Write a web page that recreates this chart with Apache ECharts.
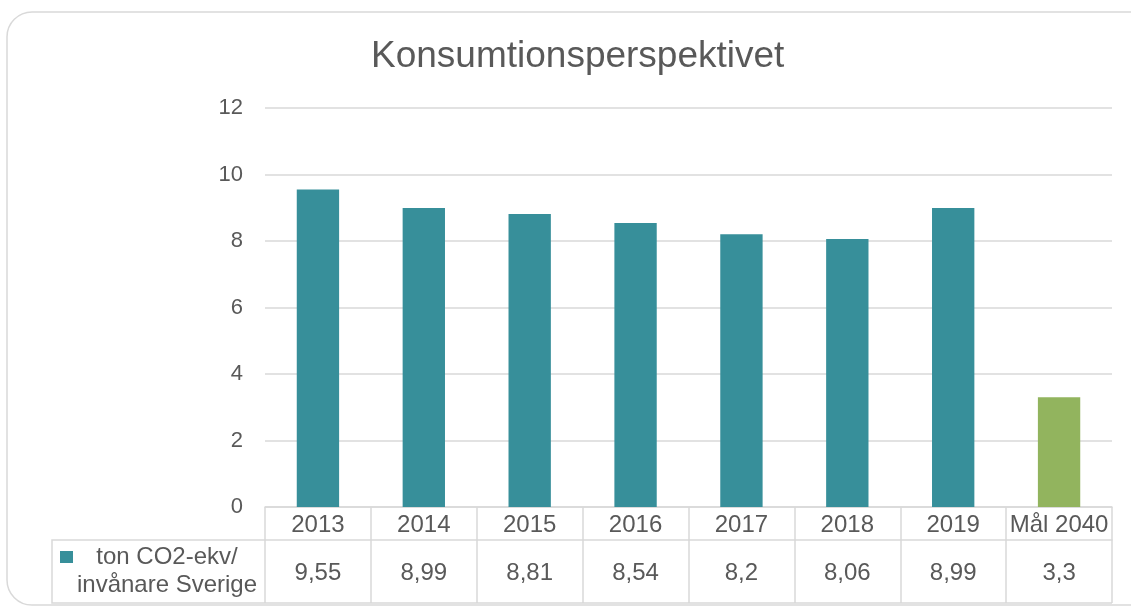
<!DOCTYPE html>
<html>
<head>
<meta charset="utf-8">
<script src="https://cdn.jsdelivr.net/npm/echarts@6/dist/echarts.min.js"></script>
<style>
  html, body { margin: 0; padding: 0; background: #fff; }
  #chart { width: 1131px; height: 610px; }
</style>
</head>
<body>
<div id="chart"></div>
<script>
// kategorier och värden
const categories = ['2013', '2014', '2015', '2016', '2017', '2018', '2019', 'Mål 2040'];
const values = [9.55, 8.99, 8.81, 8.54, 8.2, 8.06, 8.99, 3.3];
const seriesName = 'ton CO2-ekv/\ninvånare Sverige';
const yTicks = [0, 2, 4, 6, 8, 10, 12];

const teal = '#378f9a';
const green = '#92b45e';
const textColor = '#595959';
const lineColor = '#d9d9d9';
const font = 'Liberation Sans, Arial, sans-serif';

// layout
const gridLeft = 265, gridRight = 19, gridTop = 108, gridBottom = 103;
const rowH1 = 33, rowH2 = 63;
const tableLeft = 52;
const axisY = 610 - gridBottom;

const myChart = echarts.init(document.getElementById('chart'));

const fmt = v => String(v).replace('.', ',');

const option = {
  animation: false,
  title: {
    text: 'Konsumtionsperspektivet',
    left: 366,
    top: 33,
    textStyle: { color: textColor, fontSize: 37, fontWeight: 'normal', fontFamily: font }
  },
  grid: { left: gridLeft, right: gridRight, top: gridTop, bottom: gridBottom },
  xAxis: [
    {
      type: 'category',
      data: categories,
      position: 'bottom',
      axisLine: { lineStyle: { color: lineColor, width: 1.5 } },
      axisTick: { show: true, interval: 0, length: rowH1, lineStyle: { color: lineColor, width: 1.5 } },
      axisLabel: { interval: 0, color: textColor, fontSize: 24, fontFamily: font, margin: 6 }
    },
    {
      type: 'category',
      data: categories,
      position: 'bottom',
      offset: rowH1,
      axisLine: { lineStyle: { color: lineColor, width: 1.5 } },
      axisTick: { show: true, interval: 0, length: rowH2, lineStyle: { color: lineColor, width: 1.5 } },
      axisLabel: {
        interval: 0, color: textColor, fontSize: 24, fontFamily: font, margin: 21,
        formatter: (v, i) => fmt(values[i])
      }
    }
  ],
  yAxis: {
    type: 'value',
    min: yTicks[0],
    max: yTicks[yTicks.length - 1],
    interval: 2,
    axisLine: { show: false },
    axisTick: { show: false },
    axisLabel: { color: textColor, fontSize: 22, fontFamily: font, margin: 22 },
    splitLine: { lineStyle: { color: lineColor, width: 1.5 } }
  },
  series: [
    {
      name: seriesName,
      type: 'bar',
      barWidth: '40%',
      data: values.map((v, i) => ({
        value: v,
        itemStyle: { color: i === values.length - 1 ? green : teal }
      }))
    }
  ],
  graphic: [
    // ram runt diagrammet
    {
      type: 'rect',
      shape: { x: 7, y: 12, width: 1150, height: 593, r: 25 },
      style: { fill: 'none', stroke: lineColor, lineWidth: 1.5 },
      z: -1
    },
    // tabellens vänstra cell
    {
      type: 'polyline',
      shape: { points: [[gridLeft, axisY + rowH1], [tableLeft, axisY + rowH1], [tableLeft, axisY + rowH1 + rowH2], [1131 - gridRight, axisY + rowH1 + rowH2]] },
      style: { fill: 'none', stroke: lineColor, lineWidth: 1.5 }
    },
    {
      type: 'rect',
      shape: { x: 60, y: 551, width: 13, height: 12 },
      style: { fill: teal }
    },
    {
      type: 'text',
      x: 167, y: 543,
      style: {
        text: seriesName,
        fill: textColor,
        font: '24px ' + font,
        align: 'center',
        lineHeight: 28
      }
    }
  ]
};

option && myChart.setOption(option);
</script>
</body>
</html>
